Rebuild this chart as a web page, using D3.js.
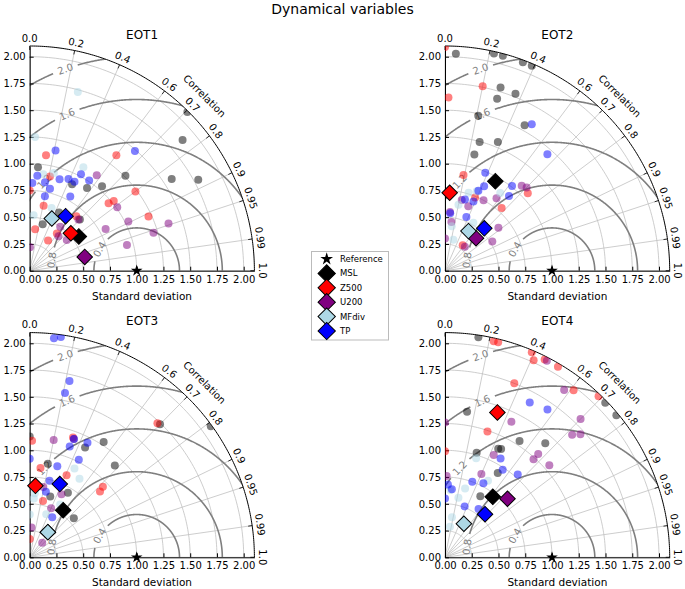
<!DOCTYPE html>
<html><head><meta charset="utf-8">
<script src="https://cdn.jsdelivr.net/npm/d3@7"></script>
<style>
body{margin:0;background:#fff;}
svg{display:block;font-family:"DejaVu Sans",sans-serif;}
</style>
</head><body>
<svg id="chart" width="685" height="589"></svg>
<script>
// ---------- data ----------
const chartTitle = "Dynamical variables";
const panelTitles = ["EOT1", "EOT2", "EOT3", "EOT4"];
const seriesNames = ["MSL", "Z500", "U200", "MFdiv", "TP"];
const seriesColors = ["black", "red", "purple", "lightblue", "blue"];
const refStd = 1.0;
const stdTicks = [0, 0.25, 0.5, 0.75, 1.0, 1.25, 1.5, 1.75, 2.0];
const corrTicks = [0, 0.2, 0.4, 0.6, 0.7, 0.8, 0.9, 0.95, 0.99, 1.0];
const corrTickLabels = ["0.0", "0.2", "0.4", "0.6", "0.7", "0.8", "0.9", "0.95", "0.99", "1.0"];
const rmsLevels = [0.4, 0.8, 1.2, 1.6, 2.0];

// each point: [standard deviation, correlation]
const eot1MSL = [[2.09,0.705],[1.88,0.76],[0.97,0.08],[1.26,0.71],[1.58,0.84],[1.79,0.88],[1.04,0.65],[0.94,0.57],[0.90,0.44],[0.45,0.27],[0.67,0.70],[0.61,0.45]];
const eot1Z500 = [[1.09,0.14],[1.35,0.60],[0.90,0.21],[1.235,0.80],[0.97,0.76],[1.02,0.77],[1.22,0.91],[0.75,0.0],[0.62,0.21],[0.39,0.13],[0.33,0.52],[0.43,0.59],[0.67,0.65]];
const eot1U200 = [[1.09,0.575],[1.01,0.81],[1.03,0.895],[1.37,0.947],[1.21,0.956],[0.81,0.876],[0.94,0.967],[0.22,0.01],[0.42,0.64],[0.45,0.77],[0.66,0.69],[0.50,0.57]];
const eot1MFdiv = [[1.73,0.26],[1.25,0.04],[1.09,0.46],[0.91,0.14],[0.94,0.24],[0.62,0.33],[0.52,0.07]];
const eot1TP = [[1.15,0.21],[1.49,0.66],[0.82,0.03],[0.89,0.08],[0.79,0.24],[0.84,0.17],[0.90,0.31],[0.93,0.39],[0.93,0.45],[1.02,0.47],[1.01,0.55],[0.79,0.48],[0.71,0.20]];
const eot1Means = [[0.56,0.82],[0.52,0.74],[0.53,0.97],[0.53,0.39],[0.61,0.55]];

const eot2MSL = [[2.03,0.05],[2.08,0.22],[2.08,0.26],[2.08,0.35],[2.08,0.39],[1.79,0.29],[1.78,0.37],[1.68,0.29],[1.48,0.21],[1.55,0.48],[1.245,0.26],[1.30,0.38],[1.12,0.245]];
const eot2Z500 = [[2.09,0.0],[1.76,0.20],[1.62,0.02],[0.91,0.19],[1.06,0.73],[0.79,0.67],[0.74,0.38],[0.29,0.57]];
const eot2U200 = [[1.07,0.67],[1.09,0.70],[0.83,0.58],[0.75,0.48],[0.68,0.23],[0.64,0.34],[0.55,0.085],[0.46,0.13],[0.64,0.78],[0.52,0.85],[0.29,0.64],[0.30,0.0]];
const eot2MFdiv = [[0.80,0.37],[0.89,0.58],[0.76,0.29],[0.63,0.20],[0.42,0.15],[0.52,0.51],[0.30,0.26]];
const eot2TP = [[1.59,0.51],[1.45,0.66],[0.99,0.38],[0.87,0.42],[1.01,0.62],[0.92,0.65],[0.69,0.27],[0.70,0.38],[0.54,0.09],[0.54,0.37],[0.81,0.385]];
const eot2Means = [[0.96,0.49],[0.73,0.06],[0.42,0.69],[0.43,0.51],[0.54,0.68]];

const eot3MSL = [[1.74,0.70],[2.09,0.81],[1.13,0.0],[1.28,0.54],[1.15,0.45],[1.17,0.68],[0.89,0.19],[0.70,0.51],[0.55,0.75],[0.60,0.32]];
const eot3Z500 = [[1.73,0.69],[1.09,0.02],[1.19,0.34],[0.84,0.12],[0.84,0.41],[0.90,0.73],[0.95,0.72],[0.54,0.23],[0.17,0.0]];
const eot3U200 = [[1.12,0.20],[1.18,0.35],[0.67,0.19],[0.66,0.45],[0.50,0.40],[0.28,0.06],[0.18,0.65]];
const eot3MFdiv = [[0.93,0.45],[0.87,0.535],[0.55,0.07],[0.40,0.0],[0.43,0.36],[0.57,0.50],[0.60,0.08]];
const eot3TP = [[2.06,0.11],[2.08,0.14],[1.69,0.22],[1.57,0.21],[1.18,0.35],[1.20,0.45],[1.10,0.34],[1.02,0.45],[0.89,0.29],[0.92,0.0],[0.74,0.25],[0.63,0.24],[0.43,0.49]];
const eot3Means = [[0.54,0.58],[0.67,0.08],[0.29,0.585],[0.29,0.585],[0.74,0.38]];

const eot4MSL = [[2.08,0.15],[2.08,0.72],[2.08,0.77],[1.375,0.15],[1.02,0.29],[1.13,0.44],[1.29,0.54],[1.42,0.66],[0.93,0.53],[0.66,0.50],[1.14,0.46]];
const eot4Z500 = [[2.07,0.22],[2.07,0.24],[2.08,0.39],[2.02,0.41],[2.07,0.45],[2.07,0.51],[1.75,0.37],[1.97,0.61],[2.08,0.69],[1.24,0.32],[0.99,0.0]];
const eot4U200 = [[2.07,0.46],[1.92,0.58],[1.41,0.44],[1.81,0.70],[1.65,0.72],[1.71,0.74],[1.30,0.67],[1.235,0.67],[1.30,0.75],[1.06,0.43],[0.85,0.40],[1.26,0.0],[0.76,0.02]];
const eot4MFdiv = [[0.97,0.30],[0.82,0.49],[0.67,0.28],[0.57,0.22],[0.38,0.17],[0.29,0.16],[0.63,0.08]];
const eot4TP = [[1.65,0.48],[1.68,0.57],[1.06,0.49],[0.98,0.55],[1.03,0.66],[0.75,0.34],[0.78,0.46],[0.64,0.10],[0.55,0.0],[0.51,0.36],[0.55,0.57],[0.68,0.04]];
const eot4Means = [[0.72,0.62],[1.44,0.34],[0.80,0.73],[0.36,0.49],[0.55,0.68]];

const panelSeries = [
  [eot1MSL, eot1Z500, eot1U200, eot1MFdiv, eot1TP],
  [eot2MSL, eot2Z500, eot2U200, eot2MFdiv, eot2TP],
  [eot3MSL, eot3Z500, eot3U200, eot3MFdiv, eot3TP],
  [eot4MSL, eot4Z500, eot4U200, eot4MFdiv, eot4TP]
];
const panelMeans = [eot1Means, eot2Means, eot3Means, eot4Means];

// ---------- layout ----------
const SMAX = 2.1;
const K = 107;
const origins = [[29.7, 270.7], [445, 270.7], [29.7, 557.3], [445, 557.3]];
const rmsLabelPhi = [150, 173, 136, 114, 109.5];
const gridColor = "#c0c0c0";
const contourColor = "#7f7f7f";

const svg = d3.select("#chart");
const defs = svg.append("defs");

svg.append("text").attr("x", 342.5).attr("y", 9).attr("text-anchor", "middle")
  .attr("dominant-baseline", "central").attr("font-size", 14).text(chartTitle);

const rad = d => d * Math.PI / 180;

panelTitles.forEach((title, pi) => {
  const [ox, oy] = origins[pi];
  const x = d3.scaleLinear().domain([0, SMAX]).range([ox, ox + SMAX * K]);
  const y = d3.scaleLinear().domain([0, SMAX]).range([oy, oy - SMAX * K]);
  const line = d3.line().x(d => x(d[0])).y(d => y(d[1]));
  const polar = (s, c) => [s * c, s * Math.sqrt(Math.max(0, 1 - c * c))];
  const g = svg.append("g");

  // clip: quarter disk
  const clipId = "clip" + pi;
  defs.append("clipPath").attr("id", clipId).append("path")
    .attr("d", `M${x(0)},${y(0)} L${x(SMAX)},${y(0)} A${SMAX*K},${SMAX*K} 0 0 0 ${x(0)},${y(SMAX)} Z`);

  // grid circles
  stdTicks.filter(s => s > 0).forEach(s => {
    const pts = d3.range(0, 90.01, 1).map(a => [s * Math.cos(rad(a)), s * Math.sin(rad(a))]);
    g.append("path").attr("d", line(pts)).attr("fill", "none")
      .attr("stroke", gridColor).attr("stroke-width", 0.8);
  });
  // grid rays
  corrTicks.forEach(c => {
    g.append("path").attr("d", line([[0, 0], polar(SMAX, c)])).attr("fill", "none")
      .attr("stroke", gridColor).attr("stroke-width", 0.8);
  });

  // RMS contours
  const cg = g.append("g").attr("clip-path", `url(#${clipId})`);
  rmsLevels.forEach((lev, li) => {
    const phiL = rad(rmsLabelPhi[li]);
    const half = 13 / (lev * K);
    const segs = []; let cur = [];
    d3.range(0, 180.01, 0.25).forEach(a => {
      const p = rad(a);
      const xx = refStd + lev * Math.cos(p), yy = lev * Math.sin(p);
      const inside = xx >= -0.01 && yy >= -0.01 && (xx * xx + yy * yy) <= SMAX * SMAX + 0.02 && Math.abs(p - phiL) > half;
      if (inside) cur.push([xx, yy]); else { if (cur.length > 1) segs.push(cur); cur = []; }
    });
    if (cur.length > 1) segs.push(cur);
    segs.forEach(sg => cg.append("path").attr("d", line(sg)).attr("fill", "none")
      .attr("stroke", contourColor).attr("stroke-width", 1.6));
    const lx = refStd + lev * Math.cos(phiL), ly = lev * Math.sin(phiL);
    g.append("text").attr("transform", `translate(${x(lx)},${y(ly)}) rotate(${-(rmsLabelPhi[li] - 90)})`)
      .attr("text-anchor", "middle").attr("dominant-baseline", "central")
      .attr("font-size", 10).attr("fill", contourColor).text(lev.toFixed(1));
  });

  // outer arc
  const arcPts = d3.range(0, 90.01, 0.5).map(a => [SMAX * Math.cos(rad(a)), SMAX * Math.sin(rad(a))]);
  g.append("path").attr("d", line(arcPts)).attr("fill", "none").attr("stroke", "black").attr("stroke-width", 1);
  // correlation ticks & labels
  corrTicks.forEach((c, ci) => {
    const th = Math.acos(c);
    g.append("path").attr("d", line([polar(SMAX, c), polar(SMAX - 4 / K, c)]))
      .attr("stroke", "black").attr("stroke-width", 0.8);
    const [lx, ly] = polar(SMAX + 8 / K, c);
    g.append("text").attr("transform", `translate(${x(lx)},${y(ly)}) rotate(${90 - th * 180 / Math.PI})`)
      .attr("text-anchor", "middle").attr("dominant-baseline", "central")
      .attr("font-size", 10).text(corrTickLabels[ci]);
  });
  {
    const [lx, ly] = [2.31 * Math.cos(rad(45)), 2.31 * Math.sin(rad(45))];
    g.append("text").attr("transform", `translate(${x(lx)},${y(ly)}) rotate(45)`)
      .attr("text-anchor", "middle").attr("dominant-baseline", "central")
      .attr("font-size", 10).text("Correlation");
  }

  // axes
  const yAxis = d3.axisLeft(y).tickValues(stdTicks).tickFormat(d3.format(".2f"))
    .tickSizeInner(-4).tickSizeOuter(0).tickPadding(4);
  const xAxis = d3.axisBottom(x).tickValues(stdTicks).tickFormat(d3.format(".2f"))
    .tickSizeInner(-4).tickSizeOuter(0).tickPadding(5);
  const ya = g.append("g").attr("transform", `translate(${x(0)},0)`).call(yAxis);
  const xa = g.append("g").attr("transform", `translate(0,${y(0)})`).call(xAxis);
  [ya, xa].forEach(a => {
    a.selectAll("text").attr("font-size", 10).attr("font-family", "DejaVu Sans").attr("fill", "black");
    a.selectAll("line").attr("stroke", "black");
    a.select(".domain").attr("stroke", "black");
  });
  g.append("text").attr("x", x(SMAX / 2)).attr("y", y(0) + 25).attr("text-anchor", "middle")
    .attr("dominant-baseline", "central").attr("font-size", 10.5).text("Standard deviation");
  g.append("text").attr("x", x(SMAX / 2)).attr("y", oy - 236).attr("text-anchor", "middle")
    .attr("dominant-baseline", "central").attr("font-size", 12).text(title);

  // reference star
  const [rx, ry] = polar(refStd, 1);
  g.append("path").attr("d", d3.symbol(d3.symbolStar, 42)())
    .attr("transform", `translate(${x(rx)},${y(ry)})`).attr("fill", "black");

  // model points
  const pg = g.append("g").attr("clip-path", `url(#${clipId})`);
  panelSeries[pi].forEach((ser, si) => {
    pg.selectAll(null).data(ser).enter().append("circle")
      .attr("cx", d => x(polar(d[0], d[1])[0]))
      .attr("cy", d => y(polar(d[0], d[1])[1]))
      .attr("r", 4)
      .attr("fill", seriesColors[si]).attr("fill-opacity", 0.5);
  });
  // mean diamonds
  panelMeans[pi].forEach((m, si) => {
    const [mx, my] = polar(m[0], m[1]);
    g.append("path").attr("d", d3.symbol(d3.symbolSquare, 121)())
      .attr("transform", `translate(${x(mx)},${y(my)}) rotate(45)`)
      .attr("fill", seriesColors[si]).attr("stroke", "black").attr("stroke-width", 1);
  });
});

// ---------- legend ----------
const lg = svg.append("g");
lg.append("rect").attr("x", 311.5).attr("y", 251.5).attr("width", 77).attr("height", 88.5)
  .attr("fill", "white").attr("stroke", "#bbbbbb").attr("stroke-width", 1);
const legendItems = ["Reference"].concat(seriesNames);
legendItems.forEach((name, i) => {
  const yy = 259 + i * 14.4;
  if (i === 0) {
    lg.append("path").attr("d", d3.symbol(d3.symbolStar, 50)())
      .attr("transform", `translate(326.7,${yy})`).attr("fill", "black");
  } else {
    lg.append("path").attr("d", d3.symbol(d3.symbolSquare, 150)())
      .attr("transform", `translate(326.7,${yy}) rotate(45)`)
      .attr("fill", seriesColors[i - 1]).attr("stroke", "black").attr("stroke-width", 1);
  }
  lg.append("text").attr("x", 340).attr("y", yy).attr("dominant-baseline", "central")
    .attr("font-size", 8.5).text(name);
});
</script>
</body></html>
